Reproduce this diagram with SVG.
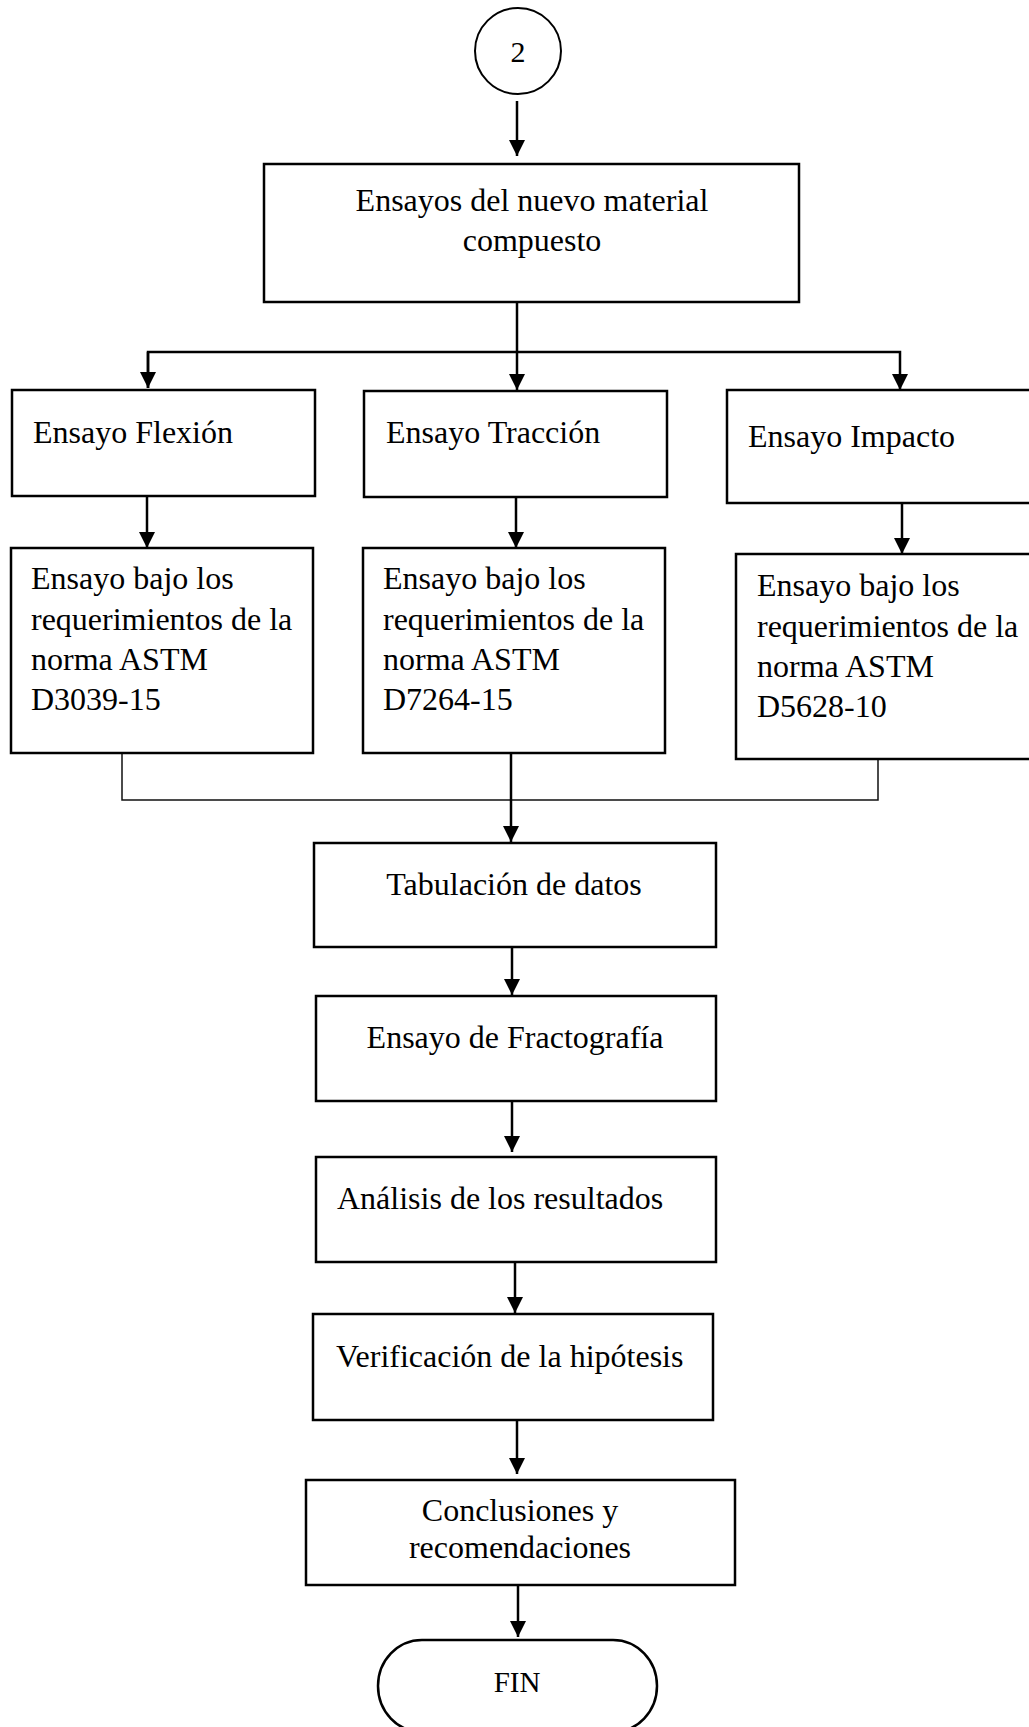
<svg xmlns="http://www.w3.org/2000/svg" width="1029" height="1727" viewBox="0 0 1029 1727">
<style>
.box{fill:#fff;stroke:#000;stroke-width:2.5}
.t{font-family:"Liberation Serif","Times New Roman",serif;font-size:32px;fill:#000}
.c{text-anchor:middle}
.con{fill:none;stroke:#000;stroke-width:2.5}
.thin{fill:none;stroke:#111;stroke-width:1.5}
</style>
<defs>
<marker id="ah" markerUnits="userSpaceOnUse" markerWidth="16" markerHeight="16" refX="16" refY="8" orient="auto">
<path d="M0,0 L16,8 L0,16 z" fill="#000"/>
</marker>
</defs>
<rect width="1029" height="1727" fill="#fff"/>
<g id="connectors">
<line class="con" x1="517" y1="101" x2="517" y2="156" marker-end="url(#ah)"/>
<line class="con" x1="517" y1="302" x2="517" y2="390" marker-end="url(#ah)"/>
<polyline class="con" points="148,388 148,352 900,352 900,390" marker-end="url(#ah)"/>
<line class="con" x1="148" y1="352" x2="148" y2="388" marker-end="url(#ah)"/>
<line class="con" x1="147" y1="490" x2="147" y2="548" marker-end="url(#ah)"/>
<line class="con" x1="516" y1="492" x2="516" y2="548" marker-end="url(#ah)"/>
<line class="con" x1="902" y1="498" x2="902" y2="554" marker-end="url(#ah)"/>
<polyline class="thin" points="122,751 122,800 878,800 878,753"/>
<line class="con" x1="511" y1="753" x2="511" y2="842" marker-end="url(#ah)"/>
<line class="con" x1="512" y1="942" x2="512" y2="995" marker-end="url(#ah)"/>
<line class="con" x1="512" y1="1097" x2="512" y2="1152" marker-end="url(#ah)"/>
<line class="con" x1="515" y1="1258" x2="515" y2="1313" marker-end="url(#ah)"/>
<line class="con" x1="517" y1="1418" x2="517" y2="1474" marker-end="url(#ah)"/>
<line class="con" x1="518" y1="1583" x2="518" y2="1637" marker-end="url(#ah)"/>
</g>
<g id="start">
<circle cx="518" cy="51" r="43" fill="#fff" stroke="#000" stroke-width="2"/>
<text class="t c" x="518" y="62" style="font-size:30px">2</text>
</g>
<g id="n-ensayos">
<rect class="box" x="264" y="164" width="535" height="138"/>
<text class="t c" x="532" y="211">Ensayos del nuevo material</text>
<text class="t c" x="532" y="251">compuesto</text>
</g>
<g id="n-flexion">
<rect class="box" x="12" y="390" width="303" height="106"/>
<text class="t" x="33" y="443">Ensayo Flexión</text>
</g>
<g id="n-traccion">
<rect class="box" x="364" y="391" width="303" height="106"/>
<text class="t" x="386" y="443">Ensayo Tracción</text>
</g>
<g id="n-impacto">
<rect class="box" x="727" y="390" width="313" height="113"/>
<text class="t" x="748" y="447">Ensayo Impacto</text>
</g>
<g id="n-flexion-norma">
<rect class="box" x="11" y="548" width="302" height="205"/>
<text class="t" x="31" y="589">Ensayo bajo los</text>
<text class="t" x="31" y="630">requerimientos de la</text>
<text class="t" x="31" y="670">norma ASTM</text>
<text class="t" x="31" y="710">D3039-15</text>
</g>
<g id="n-traccion-norma">
<rect class="box" x="363" y="548" width="302" height="205"/>
<text class="t" x="383" y="589">Ensayo bajo los</text>
<text class="t" x="383" y="630">requerimientos de la</text>
<text class="t" x="383" y="670">norma ASTM</text>
<text class="t" x="383" y="710">D7264-15</text>
</g>
<g id="n-impacto-norma">
<rect class="box" x="736" y="554" width="304" height="205"/>
<text class="t" x="757" y="596">Ensayo bajo los</text>
<text class="t" x="757" y="637">requerimientos de la</text>
<text class="t" x="757" y="677">norma ASTM</text>
<text class="t" x="757" y="717">D5628-10</text>
</g>
<g id="n-tabulacion">
<rect class="box" x="314" y="843" width="402" height="104"/>
<text class="t c" x="514" y="895">Tabulación de datos</text>
</g>
<g id="n-fractografia">
<rect class="box" x="316" y="996" width="400" height="105"/>
<text class="t c" x="515" y="1048">Ensayo de Fractografía</text>
</g>
<g id="n-analisis">
<rect class="box" x="316" y="1157" width="400" height="105"/>
<text class="t" x="337" y="1209">Análisis de los resultados</text>
</g>
<g id="n-verificacion">
<rect class="box" x="313" y="1314" width="400" height="106"/>
<text class="t" x="336" y="1367">Verificación de la hipótesis</text>
</g>
<g id="n-conclusiones">
<rect class="box" x="306" y="1480" width="429" height="105"/>
<text class="t c" x="520" y="1521">Conclusiones y</text>
<text class="t c" x="520" y="1558">recomendaciones</text>
</g>
<g id="end">
<rect x="378" y="1640" width="279" height="92" rx="44" ry="46" fill="#fff" stroke="#000" stroke-width="2.5"/>
<text class="t c" x="517" y="1692" style="font-size:29px">FIN</text>
</g>
</svg>
